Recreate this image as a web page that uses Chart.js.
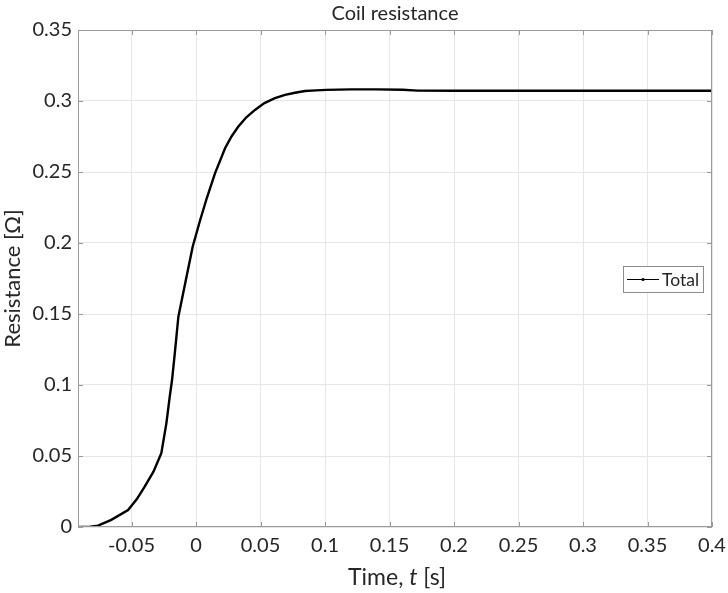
<!DOCTYPE html>
<html>
<head>
<meta charset="utf-8">
<script src="https://cdn.jsdelivr.net/npm/chart.js@4.4.1/dist/chart.umd.min.js"></script>
<style>
  html, body { margin: 0; background: #fff; }
  #wrap { width: 728px; height: 593px; }
</style>
</head>
<body>
<div id="wrap"><canvas id="chart"></canvas></div>
<script>
"use strict";

/* ── Data ────────────────────────────────────────────────── */
const TIME = [
  -0.0915, -0.082, -0.076, -0.0657, -0.0527, -0.046, -0.0398, -0.033, -0.0269,
  -0.023, -0.0204, -0.0186, -0.0165, -0.0137, -0.008, -0.0026, 0.003, 0.0083,
  0.0147, 0.0225, 0.0275, 0.0328, 0.039, 0.0457, 0.053, 0.0612, 0.069, 0.0767,
  0.0845, 0.093, 0.101, 0.12, 0.14, 0.16, 0.172, 0.2, 0.3, 0.4,
];
const RESISTANCE = [
  0, 0.0002, 0.001, 0.005, 0.012, 0.0195, 0.0284, 0.039, 0.052,
  0.073, 0.0917, 0.1035, 0.122, 0.148, 0.1734, 0.1974, 0.2155, 0.2315,
  0.249, 0.2667, 0.275, 0.282, 0.2885, 0.2937, 0.2985, 0.302, 0.3043, 0.3058,
  0.307, 0.3075, 0.3078, 0.3082, 0.3082, 0.3079, 0.3073, 0.3072, 0.3072, 0.3072,
];
const X_TICKS = [-0.05, 0, 0.05, 0.1, 0.15, 0.2, 0.25, 0.3, 0.35, 0.4];
const Y_TICKS = [0, 0.05, 0.1, 0.15, 0.2, 0.25, 0.3, 0.35];
const X_RANGE = [-0.0915, 0.4];
const Y_RANGE = [0, 0.35];

const SERIES_LABEL = 'Total';
const TITLE = 'Coil resistance';
const Y_TITLE = 'Resistance [Ω]';
const X_TITLE = [['Time, ', ''], ['t', 'italic '], [' [s]', '']];

/* ── Style ───────────────────────────────────────────────── */
const FONT = 'Lato';
const INK = '#262626';
const AXIS = '#9a9a9a';
const GRID = '#e6e6e6';

/* Box, inward ticks, titles and legend, drawn like MATLAB axes */
const matlabAxes = {
  id: 'matlabAxes',
  afterDraw(chart) {
    const { ctx, chartArea: a, scales } = chart;
    const cx = (a.left + a.right) / 2;
    ctx.save();
    ctx.strokeStyle = AXIS;
    ctx.lineWidth = 1;
    ctx.strokeRect(a.left + 0.5, a.top + 0.5, a.right - a.left - 1, a.bottom - a.top - 1);

    ctx.beginPath();
    const tick = 5;
    X_TICKS.forEach(v => {
      const px = Math.round(scales.x.getPixelForValue(v)) + 0.5;
      ctx.moveTo(px, a.bottom); ctx.lineTo(px, a.bottom - tick);
      ctx.moveTo(px, a.top); ctx.lineTo(px, a.top + tick);
    });
    Y_TICKS.forEach(v => {
      const py = Math.round(scales.y.getPixelForValue(v)) + 0.5;
      ctx.moveTo(a.left, py); ctx.lineTo(a.left + tick, py);
      ctx.moveTo(a.right, py); ctx.lineTo(a.right - tick, py);
    });
    ctx.stroke();

    /* title over the axes */
    ctx.fillStyle = INK;
    ctx.textBaseline = 'middle';
    ctx.textAlign = 'center';
    ctx.font = `20px ${FONT}`;
    ctx.fillText(TITLE, cx, 14);

    /* x title with italic t */
    ctx.textAlign = 'left';
    const size = 23;
    const widths = X_TITLE.map(([s, st]) => {
      ctx.font = `${st}${size}px ${FONT}`;
      return ctx.measureText(s).width;
    });
    let x = cx + 2 - widths.reduce((p, c) => p + c, 0) / 2;
    X_TITLE.forEach(([s, st], i) => {
      ctx.font = `${st}${size}px ${FONT}`;
      ctx.fillText(s, x, 578);
      x += widths[i];
    });

    /* legend */
    ctx.font = `17.5px ${FONT}`;
    const tw = ctx.measureText(SERIES_LABEL).width;
    const boxW = Math.round(4 + 32 + 3 + tw + 4);
    const boxH = 26;
    const bx = Math.round(a.right - 9 - boxW);
    const by = Math.round((a.top + a.bottom) / 2 - boxH / 2);
    ctx.fillStyle = '#fff';
    ctx.fillRect(bx, by, boxW, boxH);
    ctx.strokeStyle = '#8c8c8c';
    ctx.strokeRect(bx + 0.5, by + 0.5, boxW, boxH);
    const ly = by + boxH / 2 + 0.5;
    ctx.strokeStyle = '#000';
    ctx.beginPath();
    ctx.moveTo(bx + 4, ly); ctx.lineTo(bx + 36, ly);
    ctx.stroke();
    ctx.fillStyle = '#000';
    ctx.beginPath();
    ctx.arc(bx + 20, ly, 1.6, 0, Math.PI * 2);
    ctx.fill();
    ctx.fillStyle = INK;
    ctx.fillText(SERIES_LABEL, bx + 39, ly + 1);
    ctx.restore();
  },
};

new Chart(document.getElementById('chart'), {
  type: 'line',
  data: {
    datasets: [{
      label: SERIES_LABEL,
      data: TIME.map((t, i) => ({ x: t, y: RESISTANCE[i] })),
      borderColor: '#000',
      borderWidth: 2.4,
      pointRadius: 0,
      tension: 0,
      fill: false,
    }],
  },
  options: {
    responsive: true,
    maintainAspectRatio: false,
    animation: false,
    layout: { padding: { left: 0, right: 16, top: 30, bottom: 0 } },
    plugins: {
      legend: { display: false },
      tooltip: { enabled: false },
      title: { display: false },
    },
    scales: {
      x: {
        type: 'linear',
        min: X_RANGE[0],
        max: X_RANGE[1],
        afterBuildTicks: s => { s.ticks = X_TICKS.map(v => ({ value: v })); },
        afterFit: s => { s.height = 66; s.paddingLeft = 0; s.paddingRight = 0; },
        grid: { color: GRID, drawTicks: false },
        border: { display: false },
        ticks: {
          color: INK,
          font: { family: FONT, size: 20 },
          padding: 7,
          maxRotation: 0,
          autoSkip: false,
          callback: v => String(v),
        },
      },
      y: {
        type: 'linear',
        min: Y_RANGE[0],
        max: Y_RANGE[1],
        afterBuildTicks: s => { s.ticks = Y_TICKS.map(v => ({ value: v })); },
        afterFit: s => { s.width = 78; s.paddingTop = 0; s.paddingBottom = 0; },
        grid: { color: GRID, drawTicks: false },
        border: { display: false },
        title: {
          display: true,
          text: Y_TITLE,
          color: INK,
          font: { family: FONT, size: 22 },
          padding: { top: 0, bottom: 0 },
        },
        ticks: {
          color: INK,
          font: { family: FONT, size: 20 },
          padding: 6,
          autoSkip: false,
          callback: v => String(v),
        },
      },
    },
  },
  plugins: [matlabAxes],
});
</script>
</body>
</html>
